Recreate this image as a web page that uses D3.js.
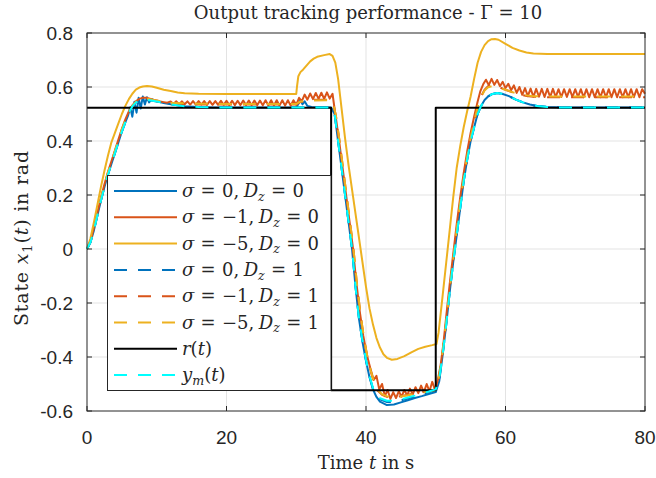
<!DOCTYPE html>
<html>
<head>
<meta charset="utf-8">
<script src="https://d3js.org/d3.v7.min.js"></script>
<style>
  body { margin: 0; background: #fff; }
  svg text { fill: #262626; }
  .serif { font-family: "DejaVu Serif", "Liberation Serif", serif; }
  .tick { font-family: "Liberation Sans", Arial, sans-serif; font-size: 19px; }
</style>
</head>
<body>
<svg id="chart" width="656" height="478"></svg>
<script>
// ---- data (time in s, value in rad) ----
var xTicks = [0, 20, 40, 60, 80];
var yTicks = [-0.6, -0.4, -0.2, 0, 0.2, 0.4, 0.6, 0.8];

var refT = [0, 35, 35, 50, 50, 80];
var refV = [0.5236, 0.5236, -0.5236, -0.5236, 0.5236, 0.5236];

var ymodel = [[0,0],[0.5,0.025],[1,0.07],[1.5,0.125],[2,0.18],[2.5,0.23],[3,0.275],[3.5,0.315],[4,0.355],[4.5,0.395],[5,0.435],[5.5,0.47],[6,0.505],[6.5,0.528],[7,0.542],[7.5,0.55],[8,0.553],[8.5,0.553],[9,0.551],[10,0.546],[11,0.541],[12,0.536],[13,0.532],[14,0.529],[16,0.526],[18,0.5245],[20,0.524],[35,0.524],
  [35.5,0.5],[36,0.4],[36.5,0.3],[37,0.2],[37.5,0.1],[38,0.0],[38.5,-0.14],[39,-0.26],[39.5,-0.34],[40,-0.41],[40.5,-0.47],[41,-0.515],[41.5,-0.54],[42,-0.553],[43,-0.562],[44,-0.562],[45,-0.557],[46,-0.55],[47,-0.543],[48,-0.535],[49,-0.528],[50,-0.52],
  [50.5,-0.48],[51,-0.39],[51.5,-0.28],[52,-0.16],[52.5,-0.05],[53,0.05],[53.5,0.15],[54,0.25],[54.5,0.33],[55,0.4],[55.5,0.45],[56,0.5],[56.5,0.53],[57,0.552],[57.5,0.565],[58,0.573],[58.8,0.578],[59.5,0.575],[60.5,0.566],[61.5,0.553],[62.5,0.543],[63.5,0.535],[64.5,0.53],[66,0.526],[68,0.524],[80,0.524]];

var sig0Dz0 = [[0,0],[0.5,0.025],[1,0.07],[1.5,0.125],[2,0.18],[2.5,0.23],[3,0.275],[3.5,0.315],[4,0.355],[4.5,0.395],[5,0.435],[5.5,0.47],[5.9,0.495],[6.2,0.525],[6.5,0.49],[6.8,0.545],[7.1,0.505],[7.4,0.56],[7.7,0.52],[8,0.565],[8.3,0.535],[8.6,0.562],[8.9,0.543],[9.3,0.555],[10,0.547],[11,0.541],[12,0.536],[13,0.532],[14,0.529],[16,0.526],[18,0.5245],[20,0.524],[30,0.524],
  [30.3,0.537],[30.6,0.552],[30.9,0.536],[31.2,0.547],[31.6,0.53],[32.2,0.526],[35,0.524],
  [35.5,0.5],[36,0.4],[36.5,0.3],[37,0.2],[37.5,0.1],[38,0.0],[38.5,-0.14],[39,-0.26],[39.5,-0.345],[40,-0.415],[40.5,-0.475],[41,-0.52],[41.5,-0.548],[42,-0.565],[43,-0.578],[44,-0.576],[45,-0.568],[46,-0.56],[47,-0.552],[48,-0.545],[49,-0.537],[50,-0.53],
  [50.5,-0.49],[51,-0.39],[51.5,-0.28],[52,-0.16],[52.5,-0.05],[53,0.05],[53.5,0.15],[54,0.25],[54.5,0.33],[55,0.4],[55.5,0.45],[56,0.5],[56.5,0.53],[57,0.552],[57.5,0.565],[58,0.573],[58.8,0.578],[59.5,0.575],[60.5,0.566],[61.5,0.553],[62.5,0.543],[63.5,0.535],[64.5,0.53],[66,0.526],[68,0.524],[80,0.524]];

var sigM1Dz0 = [[0,0],[0.5,0.03],[1,0.08],[1.5,0.135],[2,0.19],[2.5,0.24],[3,0.285],[3.5,0.325],[4,0.365],[4.5,0.405],[5,0.445],[5.5,0.48],[6,0.51],[6.5,0.532],[7,0.547],[7.5,0.556],[8,0.56],[8.5,0.56],[9,0.557],[9.5,0.553],[10,0.55],[10.5,0.546],[11,0.544],[11.5,0.542],
  [12,0.546],[12.4,0.537],[12.8,0.547],[13.2,0.536],[13.6,0.547],[14,0.536],[14.4,0.547],[14.8,0.535],[15.2,0.548],[15.6,0.535],[16,0.548],[16.4,0.535],[16.8,0.548],[17.2,0.534],[17.6,0.548],[18,0.534],[18.4,0.548],[18.8,0.534],[19.2,0.549],[19.6,0.534],[20,0.549],[20.4,0.533],[20.8,0.549],[21.2,0.533],[21.6,0.549],[22,0.533],[22.4,0.55],[22.8,0.533],[23.2,0.55],[23.6,0.532],[24,0.55],[24.4,0.532],[24.8,0.55],[25.2,0.532],[25.6,0.551],[26,0.532],[26.4,0.551],[26.8,0.532],[27.2,0.551],[27.6,0.531],[28,0.551],[28.4,0.531],[28.8,0.551],[29.2,0.531],[29.6,0.551],[30,0.534],
  [30.4,0.56],[30.8,0.548],[31.2,0.572],[31.6,0.553],[32,0.576],[32.4,0.555],[32.8,0.578],[33.2,0.556],[33.6,0.579],[34,0.556],[34.4,0.58],[34.8,0.557],[35.2,0.575],
  [35.6,0.5],[36.1,0.41],[36.6,0.31],[37.1,0.21],[37.6,0.11],[38.1,0.01],[38.6,-0.12],[39.1,-0.23],[39.6,-0.32],[40.1,-0.39],[40.6,-0.44],[41.1,-0.485],[41.5,-0.47],[41.9,-0.52],[42.3,-0.5],[42.7,-0.545],[43.1,-0.522],[43.5,-0.555],[43.9,-0.53],[44.3,-0.552],[44.7,-0.527],[45.1,-0.547],[45.5,-0.522],[45.9,-0.542],[46.3,-0.517],[46.7,-0.538],[47.1,-0.512],[47.5,-0.534],[47.9,-0.506],[48.3,-0.53],[48.7,-0.5],[49.1,-0.527],[49.5,-0.492],[49.9,-0.522],[50.3,-0.485],
  [50.7,-0.43],[51.1,-0.35],[51.5,-0.25],[52,-0.13],[52.5,-0.02],[53,0.09],[53.5,0.19],[54,0.28],[54.5,0.36],[55,0.43],[55.5,0.49],[56,0.545],[56.4,0.585],[56.8,0.61],[57.2,0.627],[57.6,0.607],[58,0.63],[58.4,0.608],[58.8,0.626],[59.2,0.603],[59.6,0.619],[60,0.596],[60.4,0.612],[60.8,0.588],[61.2,0.606],[61.6,0.578],[62,0.6],[62.4,0.571],[62.8,0.596],[63.2,0.566],[63.6,0.594],
  [64,0.564],[64.4,0.593],[64.8,0.564],[65.2,0.593],[65.6,0.563],[66,0.593],[66.4,0.563],[66.8,0.593],[67.2,0.563],[67.6,0.592],[68,0.563],[68.4,0.592],[68.8,0.563],[69.2,0.592],[69.6,0.563],[70,0.592],[70.4,0.563],[70.8,0.592],[71.2,0.562],[71.6,0.592],[72,0.562],[72.4,0.592],[72.8,0.562],[73.2,0.592],[73.6,0.562],[74,0.592],[74.4,0.562],[74.8,0.592],[75.2,0.562],[75.6,0.592],[76,0.562],[76.4,0.592],[76.8,0.562],[77.2,0.592],[77.6,0.562],[78,0.592],[78.4,0.562],[78.8,0.592],[79.2,0.562],[79.6,0.592],[80,0.575]];

var sigM5Dz0 = [[0,0],[0.5,0.04],[1,0.1],[1.5,0.165],[2,0.23],[2.5,0.29],[3,0.345],[3.5,0.395],[4,0.43],[4.5,0.465],[5,0.5],[5.5,0.53],[6,0.555],[6.5,0.575],[7,0.59],[7.5,0.598],[8,0.602],[8.6,0.604],[9.3,0.602],[10,0.597],[11,0.59],[12,0.585],[13,0.58],[14,0.577],[16,0.575],[20,0.574],[30,0.574],
  [30.1,0.6],[30.3,0.64],[30.6,0.655],[31,0.665],[31.5,0.68],[32,0.695],[32.5,0.705],[33,0.712],[34,0.718],[34.8,0.722],[35.2,0.715],[35.6,0.69],[36,0.63],[36.5,0.52],[37,0.41],[37.5,0.31],[38,0.22],[38.5,0.13],[39,0.04],[39.5,-0.05],[40,-0.14],[40.5,-0.22],[41,-0.28],[41.5,-0.33],[42,-0.365],[42.5,-0.39],[43,-0.403],[43.7,-0.41],[44.5,-0.407],[45.5,-0.397],[46.5,-0.383],[47.5,-0.37],[48.5,-0.362],[49.5,-0.356],[50.1,-0.352],
  [50.4,-0.31],[50.7,-0.24],[51,-0.17],[51.5,-0.05],[52,0.07],[52.5,0.19],[53,0.3],[53.5,0.38],[54,0.45],[54.5,0.51],[55,0.565],[55.5,0.63],[56,0.69],[56.5,0.73],[57,0.755],[57.5,0.77],[58,0.777],[58.5,0.778],[59,0.775],[60,0.76],[61,0.745],[62,0.735],[63,0.728],[64,0.724],[66,0.722],[80,0.722]];

var sig0Dz1 = [[0,0],[0.5,0.025],[1,0.07],[1.5,0.125],[2,0.18],[2.5,0.23],[3,0.275],[3.5,0.315],[4,0.355],[4.5,0.395],[5,0.435],[5.5,0.47],[6,0.505],[6.5,0.528],[7,0.542],[7.5,0.55],[8,0.553],[8.5,0.553],[9,0.551],[10,0.546],[11,0.541],[12,0.536],[13,0.532],[14,0.529],[16,0.526],[18,0.5245],[20,0.524],[35,0.524],
  [35.5,0.5],[36,0.4],[36.5,0.3],[37,0.2],[37.5,0.1],[38,0.0],[38.5,-0.14],[39,-0.26],[39.5,-0.342],[40,-0.412],[40.5,-0.472],[41,-0.517],[41.5,-0.543],[42,-0.557],[43,-0.567],[44,-0.567],[45,-0.561],[46,-0.554],[47,-0.546],[48,-0.538],[49,-0.531],[50,-0.523],
  [50.5,-0.483],[51,-0.39],[51.5,-0.28],[52,-0.16],[52.5,-0.05],[53,0.05],[53.5,0.15],[54,0.25],[54.5,0.33],[55,0.4],[55.5,0.45],[56,0.5],[56.5,0.53],[57,0.552],[57.5,0.565],[58,0.573],[58.8,0.578],[59.5,0.575],[60.5,0.566],[61.5,0.553],[62.5,0.543],[63.5,0.535],[64.5,0.53],[66,0.526],[68,0.524],[80,0.524]];

var sigM1Dz1 = [[0,0],[0.5,0.028],[1,0.075],[1.5,0.13],[2,0.185],[2.5,0.235],[3,0.28],[3.5,0.32],[4,0.36],[4.5,0.4],[5,0.44],[5.5,0.475],[6,0.505],[6.5,0.528],[7,0.543],[7.5,0.552],[8,0.556],[8.5,0.556],[9,0.553],[10,0.547],[11,0.542],[12,0.537],[16,0.535],[20,0.535],[25,0.535],[30,0.535],
  [30.5,0.543],[31.5,0.551],[33,0.553],[35,0.553],[35.3,0.54],[35.7,0.49],[36.2,0.4],[36.7,0.3],[37.2,0.2],[37.7,0.1],[38.2,0],[38.7,-0.13],[39.2,-0.24],[39.7,-0.33],[40.2,-0.4],[40.7,-0.455],[41.2,-0.5],[41.7,-0.525],[42.3,-0.54],[43,-0.548],[44,-0.55],[45,-0.545],[46,-0.54],[47,-0.535],[48,-0.53],[49,-0.525],[50,-0.52],
  [50.5,-0.47],[51,-0.38],[51.5,-0.27],[52,-0.15],[52.5,-0.04],[53,0.07],[53.5,0.17],[54,0.26],[54.5,0.34],[55,0.41],[55.5,0.47],[56,0.525],[56.5,0.565],[57,0.59],[57.5,0.603],[58,0.607],[58.5,0.605],[59,0.6],[60,0.59],[61,0.58],[62,0.572],[63,0.567],[64,0.564],[66,0.562],[80,0.562]];

var sigM5Dz1 = [[0,0],[0.5,0.03],[1,0.078],[1.5,0.133],[2,0.188],[2.5,0.238],[3,0.283],[3.5,0.323],[4,0.363],[4.5,0.403],[5,0.443],[5.5,0.478],[6,0.508],[6.5,0.53],[7,0.545],[7.5,0.553],[8,0.557],[8.5,0.557],[9,0.555],[10,0.55],[11,0.545],[12,0.541],[16,0.538],[20,0.537],[30,0.537],
  [30.5,0.545],[31.5,0.55],[35,0.551],[35.3,0.54],[35.7,0.492],[36.2,0.402],[36.7,0.302],[37.2,0.202],[37.7,0.102],[38.2,0.002],[38.7,-0.128],[39.2,-0.238],[39.7,-0.328],[40.2,-0.398],[40.7,-0.452],[41.2,-0.497],[41.7,-0.522],[42.3,-0.538],[43,-0.546],[44,-0.548],[45,-0.546],[46,-0.542],[47,-0.537],[48,-0.532],[49,-0.527],[50,-0.522],
  [50.5,-0.468],[51,-0.378],[51.5,-0.268],[52,-0.148],[52.5,-0.038],[53,0.072],[53.5,0.172],[54,0.262],[54.5,0.342],[55,0.412],[55.5,0.472],[56,0.525],[56.5,0.563],[57,0.587],[57.5,0.599],[58,0.603],[58.5,0.602],[59,0.598],[60,0.59],[61,0.581],[62,0.574],[63,0.569],[64,0.566],[66,0.565],[80,0.565]];

// ---- layout ----
var svg = d3.select("#chart");
var pLeft = 87, pRight = 645, pTop = 33, pBottom = 411;
var x = d3.scaleLinear().domain([0, 80]).range([pLeft, pRight]);
var y = d3.scaleLinear().domain([-0.6, 0.8]).range([pBottom, pTop]);

var blue = "#0072bd", red = "#d95319", gold = "#edb120";
var dashed = "13,11";
var series = [
  { data: sig0Dz0, color: blue, dash: null },
  { data: sigM1Dz0, color: red, dash: null },
  { data: sigM5Dz0, color: gold, dash: null },
  { data: sig0Dz1, color: blue, dash: dashed },
  { data: sigM1Dz1, color: red, dash: dashed },
  { data: sigM5Dz1, color: gold, dash: dashed },
  { data: d3.zip(refT, refV), color: "#000000", dash: null },
  { data: ymodel, color: "#00ffff", dash: dashed }
];

// grid
svg.append("g").selectAll("line").data(xTicks.slice(1, -1)).enter().append("line")
  .attr("x1", d => x(d)).attr("x2", d => x(d)).attr("y1", pTop).attr("y2", pBottom)
  .attr("stroke", "#e3e3e3").attr("stroke-width", 1);
svg.append("g").selectAll("line").data(yTicks.slice(1, -1)).enter().append("line")
  .attr("y1", d => y(d)).attr("y2", d => y(d)).attr("x1", pLeft).attr("x2", pRight)
  .attr("stroke", "#e3e3e3").attr("stroke-width", 1);

// curves
var line = d3.line().x(d => x(d[0])).y(d => y(d[1]));
svg.append("g").selectAll("path").data(series).enter().append("path")
  .attr("d", d => line(d.data))
  .attr("fill", "none")
  .attr("stroke", d => d.color)
  .attr("stroke-width", 2)
  .attr("stroke-linejoin", "round")
  .attr("stroke-dasharray", d => d.dash);

// axes box with inner ticks on all sides
var ax = svg.append("g").attr("stroke", "#262626").attr("stroke-width", 1).attr("fill", "none");
ax.append("rect").attr("x", pLeft).attr("y", pTop).attr("width", pRight - pLeft).attr("height", pBottom - pTop);
var tl = 5;
xTicks.forEach(function(t) {
  ax.append("line").attr("x1", x(t)).attr("x2", x(t)).attr("y1", pBottom).attr("y2", pBottom - tl);
  ax.append("line").attr("x1", x(t)).attr("x2", x(t)).attr("y1", pTop).attr("y2", pTop + tl);
});
yTicks.forEach(function(t) {
  ax.append("line").attr("y1", y(t)).attr("y2", y(t)).attr("x1", pLeft).attr("x2", pLeft + tl);
  ax.append("line").attr("y1", y(t)).attr("y2", y(t)).attr("x1", pRight).attr("x2", pRight - tl);
});

svg.append("g").selectAll("text").data(xTicks).enter().append("text")
  .attr("class", "tick").attr("x", d => x(d)).attr("y", 444)
  .attr("text-anchor", "middle").text(d => d3.format("")(d));
svg.append("g").selectAll("text").data(yTicks).enter().append("text")
  .attr("class", "tick").attr("x", 73).attr("y", d => y(d)).attr("dy", "0.35em")
  .attr("text-anchor", "end").text(d => d === 0 ? "0" : d3.format(".1f")(d).replace("−", "-"));

// math-ish text helper: parts = [text, italic, dx(em), sub, back-up]
function mathText(sel, parts) {
  parts.forEach(function(p) {
    var ts = sel.append("tspan").text(p[0]);
    if (p[1]) ts.attr("font-style", "italic");
    if (p[2]) ts.attr("dx", p[2] + "em");
    if (p[3]) ts.attr("font-size", "70%").attr("dy", "0.3em");
    if (p[4]) ts.attr("dy", "-0.21em");
  });
  return sel;
}

// title + axis labels
svg.append("text").attr("class", "serif").attr("x", 368).attr("y", 19)
  .attr("text-anchor", "middle").attr("font-size", "18px")
  .text("Output tracking performance - Γ = 10");
mathText(svg.append("text").attr("class", "serif").attr("x", 366).attr("y", 469)
  .attr("text-anchor", "middle").attr("font-size", "18px"),
  [["Time "], ["t", true], [" in s"]]);
mathText(svg.append("text").attr("class", "serif")
  .attr("transform", "translate(28,238) rotate(-90)")
  .attr("text-anchor", "middle").attr("font-size", "19px").attr("letter-spacing", "0.8px"),
  [["State "], ["x", true], ["1", false, 0, true], ["(", false, 0, false, true], ["t", true], [") in rad"]]);

// legend
var legendLabels = [
  [["σ", true], ["=", false, 0.35], ["0,", false, 0.35], ["D", true, 0.25], ["z", true, 0, true], ["=", false, 0.35, false, true], ["0", false, 0.35]],
  [["σ", true], ["=", false, 0.35], ["−1,", false, 0.35], ["D", true, 0.25], ["z", true, 0, true], ["=", false, 0.35, false, true], ["0", false, 0.35]],
  [["σ", true], ["=", false, 0.35], ["−5,", false, 0.35], ["D", true, 0.25], ["z", true, 0, true], ["=", false, 0.35, false, true], ["0", false, 0.35]],
  [["σ", true], ["=", false, 0.35], ["0,", false, 0.35], ["D", true, 0.25], ["z", true, 0, true], ["=", false, 0.35, false, true], ["1", false, 0.35]],
  [["σ", true], ["=", false, 0.35], ["−1,", false, 0.35], ["D", true, 0.25], ["z", true, 0, true], ["=", false, 0.35, false, true], ["1", false, 0.35]],
  [["σ", true], ["=", false, 0.35], ["−5,", false, 0.35], ["D", true, 0.25], ["z", true, 0, true], ["=", false, 0.35, false, true], ["1", false, 0.35]],
  [["r", true], ["("], ["t", true], [")"]],
  [["y", true], ["m", true, 0, true], ["(", false, 0, false, true], ["t", true], [")"]]
];
var lg = svg.append("g");
lg.append("rect").attr("x", 107.5).attr("y", 175.5).attr("width", 223.5).attr("height", 215)
  .attr("fill", "#fff").attr("stroke", "#262626").attr("stroke-width", 1);
series.forEach(function(s, i) {
  var cy = 191 + i * 26.3;
  lg.append("line").attr("x1", 114).attr("x2", 177).attr("y1", cy).attr("y2", cy)
    .attr("stroke", s.color).attr("stroke-width", 2).attr("stroke-dasharray", s.dash);
  mathText(lg.append("text").attr("class", "serif").attr("x", 182).attr("y", cy + 6)
    .attr("font-size", "18px"), legendLabels[i]);
});
</script>
</body>
</html>
